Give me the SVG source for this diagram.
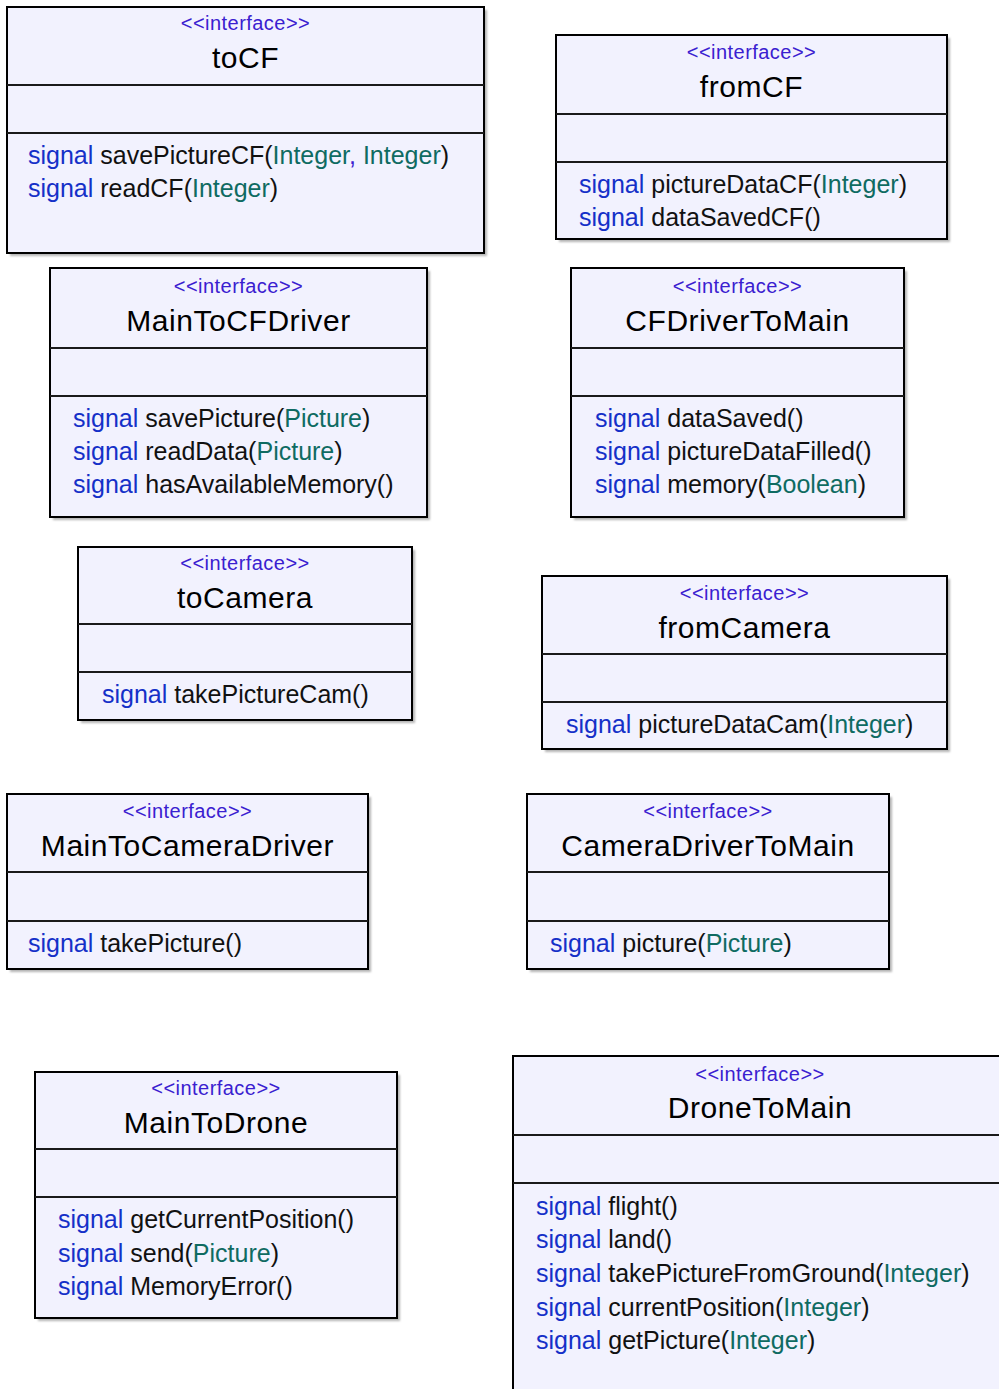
<svg xmlns="http://www.w3.org/2000/svg" width="999" height="1389" viewBox="0 0 999 1389">
  <defs>
    <filter id="soft" x="-5%" y="-5%" width="110%" height="110%">
      <feGaussianBlur stdDeviation="1.2"/>
    </filter>
  </defs>
  <style>
    .shadow { fill: #b4b4b4; filter: url(#soft); }
    .box { fill: #f2f2fe; stroke: #000; stroke-width: 2; }
    .sep { stroke: #1a1a1a; stroke-width: 2; }
    text { font-family: "Liberation Sans", Arial, sans-serif; }
    .stereo { font-size: 20px; fill: #3a20d0; text-anchor: middle; letter-spacing: 0.45px; }
    .title { font-size: 30px; fill: #000; text-anchor: middle; letter-spacing: 0.55px; }
    .sig { font-size: 25px; fill: #111; }
    .kw { fill: #1530c8; }
    .ty { fill: #0f6b62; }
    .cm { fill: #3a20d0; }
  </style>
  <rect width="999" height="1389" fill="#fff"/>

  <!-- interface classes -->
  <g id="toCF">
    <rect class="shadow" x="10" y="10" width="477" height="246"/>
    <rect class="box" x="7" y="7" width="477" height="246"/>
    <line class="sep" x1="7" y1="85" x2="484" y2="85"/>
    <line class="sep" x1="7" y1="133" x2="484" y2="133"/>
    <text class="stereo" x="245.5" y="30">&lt;&lt;interface&gt;&gt;</text>
    <text class="title" x="245.5" y="68">toCF</text>
    <text class="sig" x="28" y="164"><tspan class="kw">signal</tspan> savePictureCF(<tspan class="ty">Integer</tspan><tspan class="cm">, </tspan><tspan class="ty">Integer</tspan>)</text>
    <text class="sig" x="28" y="197"><tspan class="kw">signal</tspan> readCF(<tspan class="ty">Integer</tspan>)</text>
  </g>

  <g id="fromCF">
    <rect class="shadow" x="559" y="38" width="391" height="204"/>
    <rect class="box" x="556" y="35" width="391" height="204"/>
    <line class="sep" x1="556" y1="114" x2="947" y2="114"/>
    <line class="sep" x1="556" y1="162" x2="947" y2="162"/>
    <text class="stereo" x="751.5" y="59">&lt;&lt;interface&gt;&gt;</text>
    <text class="title" x="751.5" y="97">fromCF</text>
    <text class="sig" x="579" y="193"><tspan class="kw">signal</tspan> pictureDataCF(<tspan class="ty">Integer</tspan>)</text>
    <text class="sig" x="579" y="226"><tspan class="kw">signal</tspan> dataSavedCF()</text>
  </g>

  <g id="MainToCFDriver">
    <rect class="shadow" x="53" y="271" width="377" height="249"/>
    <rect class="box" x="50" y="268" width="377" height="249"/>
    <line class="sep" x1="50" y1="348" x2="427" y2="348"/>
    <line class="sep" x1="50" y1="396" x2="427" y2="396"/>
    <text class="stereo" x="238.5" y="293">&lt;&lt;interface&gt;&gt;</text>
    <text class="title" x="238.5" y="331">MainToCFDriver</text>
    <text class="sig" x="73" y="427"><tspan class="kw">signal</tspan> savePicture(<tspan class="ty">Picture</tspan>)</text>
    <text class="sig" x="73" y="460"><tspan class="kw">signal</tspan> readData(<tspan class="ty">Picture</tspan>)</text>
    <text class="sig" x="73" y="493"><tspan class="kw">signal</tspan> hasAvailableMemory()</text>
  </g>

  <g id="CFDriverToMain">
    <rect class="shadow" x="574" y="271" width="333" height="249"/>
    <rect class="box" x="571" y="268" width="333" height="249"/>
    <line class="sep" x1="571" y1="348" x2="904" y2="348"/>
    <line class="sep" x1="571" y1="396" x2="904" y2="396"/>
    <text class="stereo" x="737.5" y="293">&lt;&lt;interface&gt;&gt;</text>
    <text class="title" x="737.5" y="331">CFDriverToMain</text>
    <text class="sig" x="595" y="427"><tspan class="kw">signal</tspan> dataSaved()</text>
    <text class="sig" x="595" y="460"><tspan class="kw">signal</tspan> pictureDataFilled()</text>
    <text class="sig" x="595" y="493"><tspan class="kw">signal</tspan> memory(<tspan class="ty">Boolean</tspan>)</text>
  </g>

  <g id="toCamera">
    <rect class="shadow" x="81" y="550" width="334" height="173"/>
    <rect class="box" x="78" y="547" width="334" height="173"/>
    <line class="sep" x1="78" y1="624" x2="412" y2="624"/>
    <line class="sep" x1="78" y1="672" x2="412" y2="672"/>
    <text class="stereo" x="245" y="570">&lt;&lt;interface&gt;&gt;</text>
    <text class="title" x="245" y="608">toCamera</text>
    <text class="sig" x="102" y="703"><tspan class="kw">signal</tspan> takePictureCam()</text>
  </g>

  <g id="fromCamera">
    <rect class="shadow" x="545" y="579" width="405" height="173"/>
    <rect class="box" x="542" y="576" width="405" height="173"/>
    <line class="sep" x1="542" y1="654" x2="947" y2="654"/>
    <line class="sep" x1="542" y1="702" x2="947" y2="702"/>
    <text class="stereo" x="744.5" y="600">&lt;&lt;interface&gt;&gt;</text>
    <text class="title" x="744.5" y="638">fromCamera</text>
    <text class="sig" x="566" y="733"><tspan class="kw">signal</tspan> pictureDataCam(<tspan class="ty">Integer</tspan>)</text>
  </g>

  <g id="MainToCameraDriver">
    <rect class="shadow" x="10" y="797" width="361" height="175"/>
    <rect class="box" x="7" y="794" width="361" height="175"/>
    <line class="sep" x1="7" y1="872" x2="368" y2="872"/>
    <line class="sep" x1="7" y1="921" x2="368" y2="921"/>
    <text class="stereo" x="187.5" y="818">&lt;&lt;interface&gt;&gt;</text>
    <text class="title" x="187.5" y="856">MainToCameraDriver</text>
    <text class="sig" x="28" y="952"><tspan class="kw">signal</tspan> takePicture()</text>
  </g>

  <g id="CameraDriverToMain">
    <rect class="shadow" x="530" y="797" width="362" height="175"/>
    <rect class="box" x="527" y="794" width="362" height="175"/>
    <line class="sep" x1="527" y1="872" x2="889" y2="872"/>
    <line class="sep" x1="527" y1="921" x2="889" y2="921"/>
    <text class="stereo" x="708" y="818">&lt;&lt;interface&gt;&gt;</text>
    <text class="title" x="708" y="856">CameraDriverToMain</text>
    <text class="sig" x="550" y="952"><tspan class="kw">signal</tspan> picture(<tspan class="ty">Picture</tspan>)</text>
  </g>

  <g id="MainToDrone">
    <rect class="shadow" x="38" y="1075" width="362" height="246"/>
    <rect class="box" x="35" y="1072" width="362" height="246"/>
    <line class="sep" x1="35" y1="1149" x2="397" y2="1149"/>
    <line class="sep" x1="35" y1="1197" x2="397" y2="1197"/>
    <text class="stereo" x="216" y="1095">&lt;&lt;interface&gt;&gt;</text>
    <text class="title" x="216" y="1133">MainToDrone</text>
    <text class="sig" x="58" y="1228"><tspan class="kw">signal</tspan> getCurrentPosition()</text>
    <text class="sig" x="58" y="1262"><tspan class="kw">signal</tspan> send(<tspan class="ty">Picture</tspan>)</text>
    <text class="sig" x="58" y="1295"><tspan class="kw">signal</tspan> MemoryError()</text>
  </g>

  <g id="DroneToMain">
    <rect class="box" x="513" y="1056" width="494" height="345"/>
    <line class="sep" x1="513" y1="1135" x2="1007" y2="1135"/>
    <line class="sep" x1="513" y1="1183" x2="1007" y2="1183"/>
    <text class="stereo" x="760" y="1081">&lt;&lt;interface&gt;&gt;</text>
    <text class="title" x="760" y="1118">DroneToMain</text>
    <text class="sig" x="536" y="1215"><tspan class="kw">signal</tspan> flight()</text>
    <text class="sig" x="536" y="1248"><tspan class="kw">signal</tspan> land()</text>
    <text class="sig" x="536" y="1282"><tspan class="kw">signal</tspan> takePictureFromGround(<tspan class="ty">Integer</tspan>)</text>
    <text class="sig" x="536" y="1316"><tspan class="kw">signal</tspan> currentPosition(<tspan class="ty">Integer</tspan>)</text>
    <text class="sig" x="536" y="1349"><tspan class="kw">signal</tspan> getPicture(<tspan class="ty">Integer</tspan>)</text>
  </g>

  <!-- no associations between these interfaces -->
  <g id="connectors"/>
</svg>
